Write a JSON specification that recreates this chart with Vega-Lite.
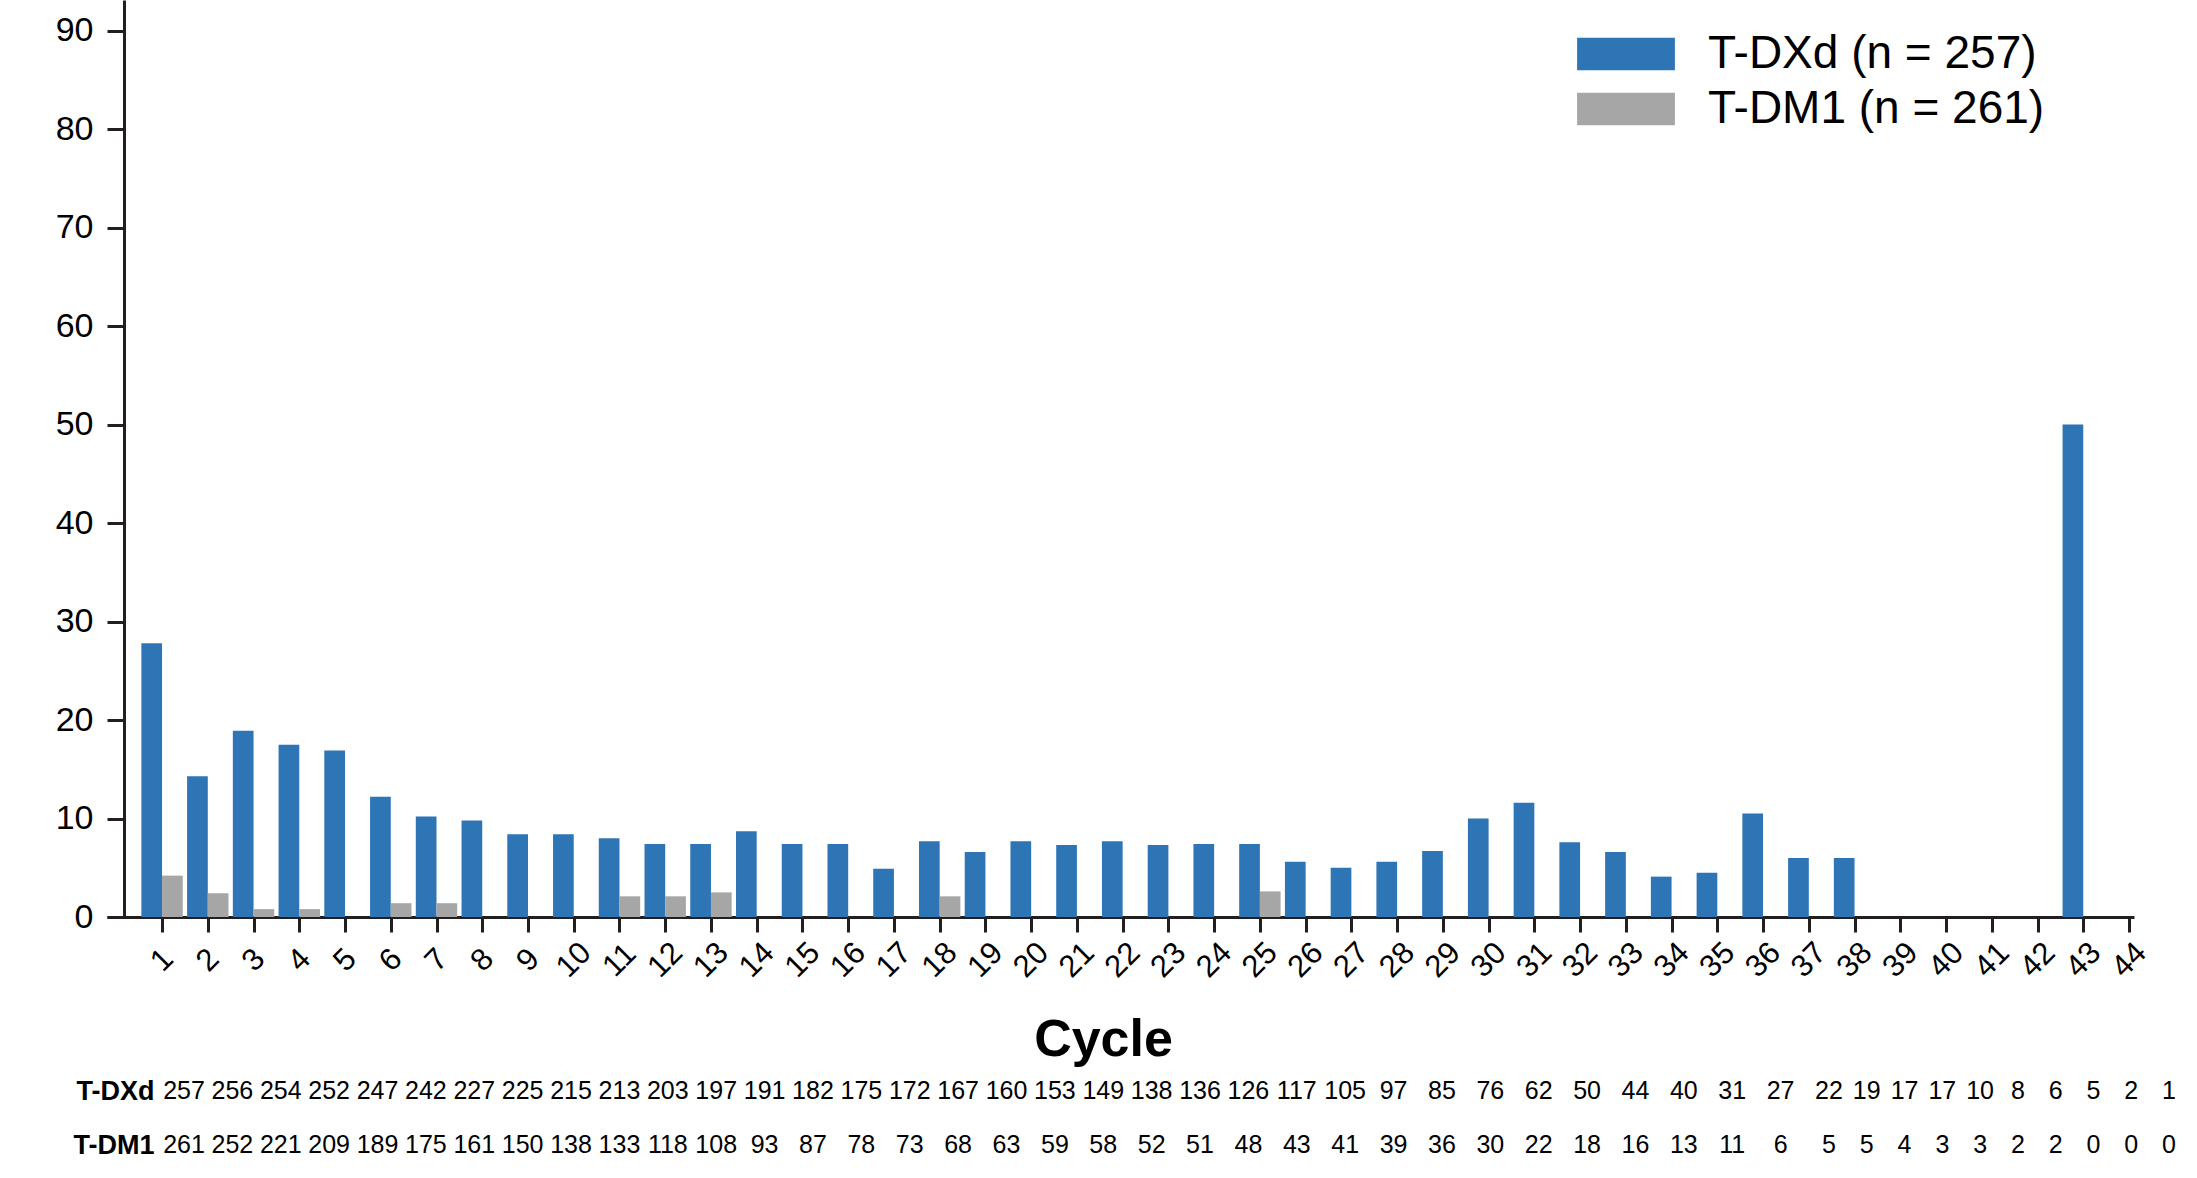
{
  "$schema": "https://vega.github.io/schema/vega-lite/v6.json",
  "padding": {"left": 55, "top": 0, "right": 5, "bottom": 5},
  "autosize": {"type": "pad"},
  "bounds": "flush",
  "spacing": 147,
  "config": {
    "font": "Liberation Sans",
    "view": {"stroke": null},
    "axis": {"domainColor": "#231f20", "tickColor": "#231f20", "domainWidth": 3, "tickWidth": 3, "labelColor": "#000000", "titleColor": "#000000", "grid": false}
  },
  "datasets": {
    "bars": [
      {"cycle": 1, "group": "T-DXd (n = 257)", "pct": 27.8},
      {"cycle": 2, "group": "T-DXd (n = 257)", "pct": 14.3},
      {"cycle": 3, "group": "T-DXd (n = 257)", "pct": 18.9},
      {"cycle": 4, "group": "T-DXd (n = 257)", "pct": 17.5},
      {"cycle": 5, "group": "T-DXd (n = 257)", "pct": 16.9},
      {"cycle": 6, "group": "T-DXd (n = 257)", "pct": 12.2},
      {"cycle": 7, "group": "T-DXd (n = 257)", "pct": 10.2},
      {"cycle": 8, "group": "T-DXd (n = 257)", "pct": 9.8},
      {"cycle": 9, "group": "T-DXd (n = 257)", "pct": 8.4},
      {"cycle": 10, "group": "T-DXd (n = 257)", "pct": 8.4},
      {"cycle": 11, "group": "T-DXd (n = 257)", "pct": 8.0},
      {"cycle": 12, "group": "T-DXd (n = 257)", "pct": 7.4},
      {"cycle": 13, "group": "T-DXd (n = 257)", "pct": 7.4},
      {"cycle": 14, "group": "T-DXd (n = 257)", "pct": 8.7},
      {"cycle": 15, "group": "T-DXd (n = 257)", "pct": 7.4},
      {"cycle": 16, "group": "T-DXd (n = 257)", "pct": 7.4},
      {"cycle": 17, "group": "T-DXd (n = 257)", "pct": 4.9},
      {"cycle": 18, "group": "T-DXd (n = 257)", "pct": 7.7},
      {"cycle": 19, "group": "T-DXd (n = 257)", "pct": 6.6},
      {"cycle": 20, "group": "T-DXd (n = 257)", "pct": 7.7},
      {"cycle": 21, "group": "T-DXd (n = 257)", "pct": 7.3},
      {"cycle": 22, "group": "T-DXd (n = 257)", "pct": 7.7},
      {"cycle": 23, "group": "T-DXd (n = 257)", "pct": 7.3},
      {"cycle": 24, "group": "T-DXd (n = 257)", "pct": 7.4},
      {"cycle": 25, "group": "T-DXd (n = 257)", "pct": 7.4},
      {"cycle": 26, "group": "T-DXd (n = 257)", "pct": 5.6},
      {"cycle": 27, "group": "T-DXd (n = 257)", "pct": 5.0},
      {"cycle": 28, "group": "T-DXd (n = 257)", "pct": 5.6},
      {"cycle": 29, "group": "T-DXd (n = 257)", "pct": 6.7},
      {"cycle": 30, "group": "T-DXd (n = 257)", "pct": 10.0},
      {"cycle": 31, "group": "T-DXd (n = 257)", "pct": 11.6},
      {"cycle": 32, "group": "T-DXd (n = 257)", "pct": 7.6},
      {"cycle": 33, "group": "T-DXd (n = 257)", "pct": 6.6},
      {"cycle": 34, "group": "T-DXd (n = 257)", "pct": 4.1},
      {"cycle": 35, "group": "T-DXd (n = 257)", "pct": 4.5},
      {"cycle": 36, "group": "T-DXd (n = 257)", "pct": 10.5},
      {"cycle": 37, "group": "T-DXd (n = 257)", "pct": 6.0},
      {"cycle": 38, "group": "T-DXd (n = 257)", "pct": 6.0},
      {"cycle": 39, "group": "T-DXd (n = 257)", "pct": 0},
      {"cycle": 40, "group": "T-DXd (n = 257)", "pct": 0},
      {"cycle": 41, "group": "T-DXd (n = 257)", "pct": 0},
      {"cycle": 42, "group": "T-DXd (n = 257)", "pct": 0},
      {"cycle": 43, "group": "T-DXd (n = 257)", "pct": 50.0},
      {"cycle": 44, "group": "T-DXd (n = 257)", "pct": 0},
      {"cycle": 1, "group": "T-DM1 (n = 261)", "pct": 4.2},
      {"cycle": 2, "group": "T-DM1 (n = 261)", "pct": 2.4},
      {"cycle": 3, "group": "T-DM1 (n = 261)", "pct": 0.8},
      {"cycle": 4, "group": "T-DM1 (n = 261)", "pct": 0.8},
      {"cycle": 6, "group": "T-DM1 (n = 261)", "pct": 1.4},
      {"cycle": 7, "group": "T-DM1 (n = 261)", "pct": 1.4},
      {"cycle": 11, "group": "T-DM1 (n = 261)", "pct": 2.1},
      {"cycle": 12, "group": "T-DM1 (n = 261)", "pct": 2.1},
      {"cycle": 13, "group": "T-DM1 (n = 261)", "pct": 2.5},
      {"cycle": 18, "group": "T-DM1 (n = 261)", "pct": 2.1},
      {"cycle": 25, "group": "T-DM1 (n = 261)", "pct": 2.6}
    ],
    "risk": [
      {"cycle": 1, "arm": "T-DXd", "n": 257}, {"cycle": 2, "arm": "T-DXd", "n": 256}, {"cycle": 3, "arm": "T-DXd", "n": 254}, {"cycle": 4, "arm": "T-DXd", "n": 252},
      {"cycle": 5, "arm": "T-DXd", "n": 247}, {"cycle": 6, "arm": "T-DXd", "n": 242}, {"cycle": 7, "arm": "T-DXd", "n": 227}, {"cycle": 8, "arm": "T-DXd", "n": 225},
      {"cycle": 9, "arm": "T-DXd", "n": 215}, {"cycle": 10, "arm": "T-DXd", "n": 213}, {"cycle": 11, "arm": "T-DXd", "n": 203}, {"cycle": 12, "arm": "T-DXd", "n": 197},
      {"cycle": 13, "arm": "T-DXd", "n": 191}, {"cycle": 14, "arm": "T-DXd", "n": 182}, {"cycle": 15, "arm": "T-DXd", "n": 175}, {"cycle": 16, "arm": "T-DXd", "n": 172},
      {"cycle": 17, "arm": "T-DXd", "n": 167}, {"cycle": 18, "arm": "T-DXd", "n": 160}, {"cycle": 19, "arm": "T-DXd", "n": 153}, {"cycle": 20, "arm": "T-DXd", "n": 149},
      {"cycle": 21, "arm": "T-DXd", "n": 138}, {"cycle": 22, "arm": "T-DXd", "n": 136}, {"cycle": 23, "arm": "T-DXd", "n": 126}, {"cycle": 24, "arm": "T-DXd", "n": 117},
      {"cycle": 25, "arm": "T-DXd", "n": 105}, {"cycle": 26, "arm": "T-DXd", "n": 97}, {"cycle": 27, "arm": "T-DXd", "n": 85}, {"cycle": 28, "arm": "T-DXd", "n": 76},
      {"cycle": 29, "arm": "T-DXd", "n": 62}, {"cycle": 30, "arm": "T-DXd", "n": 50}, {"cycle": 31, "arm": "T-DXd", "n": 44}, {"cycle": 32, "arm": "T-DXd", "n": 40},
      {"cycle": 33, "arm": "T-DXd", "n": 31}, {"cycle": 34, "arm": "T-DXd", "n": 27}, {"cycle": 35, "arm": "T-DXd", "n": 22}, {"cycle": 36, "arm": "T-DXd", "n": 19},
      {"cycle": 37, "arm": "T-DXd", "n": 17}, {"cycle": 38, "arm": "T-DXd", "n": 17}, {"cycle": 39, "arm": "T-DXd", "n": 10}, {"cycle": 40, "arm": "T-DXd", "n": 8},
      {"cycle": 41, "arm": "T-DXd", "n": 6}, {"cycle": 42, "arm": "T-DXd", "n": 5}, {"cycle": 43, "arm": "T-DXd", "n": 2}, {"cycle": 44, "arm": "T-DXd", "n": 1},
      {"cycle": 1, "arm": "T-DM1", "n": 261}, {"cycle": 2, "arm": "T-DM1", "n": 252}, {"cycle": 3, "arm": "T-DM1", "n": 221}, {"cycle": 4, "arm": "T-DM1", "n": 209},
      {"cycle": 5, "arm": "T-DM1", "n": 189}, {"cycle": 6, "arm": "T-DM1", "n": 175}, {"cycle": 7, "arm": "T-DM1", "n": 161}, {"cycle": 8, "arm": "T-DM1", "n": 150},
      {"cycle": 9, "arm": "T-DM1", "n": 138}, {"cycle": 10, "arm": "T-DM1", "n": 133}, {"cycle": 11, "arm": "T-DM1", "n": 118}, {"cycle": 12, "arm": "T-DM1", "n": 108},
      {"cycle": 13, "arm": "T-DM1", "n": 93}, {"cycle": 14, "arm": "T-DM1", "n": 87}, {"cycle": 15, "arm": "T-DM1", "n": 78}, {"cycle": 16, "arm": "T-DM1", "n": 73},
      {"cycle": 17, "arm": "T-DM1", "n": 68}, {"cycle": 18, "arm": "T-DM1", "n": 63}, {"cycle": 19, "arm": "T-DM1", "n": 59}, {"cycle": 20, "arm": "T-DM1", "n": 58},
      {"cycle": 21, "arm": "T-DM1", "n": 52}, {"cycle": 22, "arm": "T-DM1", "n": 51}, {"cycle": 23, "arm": "T-DM1", "n": 48}, {"cycle": 24, "arm": "T-DM1", "n": 43},
      {"cycle": 25, "arm": "T-DM1", "n": 41}, {"cycle": 26, "arm": "T-DM1", "n": 39}, {"cycle": 27, "arm": "T-DM1", "n": 36}, {"cycle": 28, "arm": "T-DM1", "n": 30},
      {"cycle": 29, "arm": "T-DM1", "n": 22}, {"cycle": 30, "arm": "T-DM1", "n": 18}, {"cycle": 31, "arm": "T-DM1", "n": 16}, {"cycle": 32, "arm": "T-DM1", "n": 13},
      {"cycle": 33, "arm": "T-DM1", "n": 11}, {"cycle": 34, "arm": "T-DM1", "n": 6}, {"cycle": 35, "arm": "T-DM1", "n": 5}, {"cycle": 36, "arm": "T-DM1", "n": 5},
      {"cycle": 37, "arm": "T-DM1", "n": 4}, {"cycle": 38, "arm": "T-DM1", "n": 3}, {"cycle": 39, "arm": "T-DM1", "n": 3}, {"cycle": 40, "arm": "T-DM1", "n": 2},
      {"cycle": 41, "arm": "T-DM1", "n": 2}, {"cycle": 42, "arm": "T-DM1", "n": 0}, {"cycle": 43, "arm": "T-DM1", "n": 0}, {"cycle": 44, "arm": "T-DM1", "n": 0}
    ]
  },
  "vconcat": [
    {
      "width": 2027,
      "height": 917,
      "data": {"name": "bars"},
      "encoding": {
        "x": {
          "field": "cycle", "type": "quantitative",
          "scale": {"domain": [-0.094, 44], "nice": false, "zero": false},
          "axis": {
            "values": [1,2,3,4,5,6,7,8,9,10,11,12,13,14,15,16,17,18,19,20,21,22,23,24,25,26,27,28,29,30,31,32,33,34,35,36,37,38,39,40,41,42,43,44],
            "format": "d", "tickSize": 15, "labelAngle": -45, "labelAlign": "center", "labelBaseline": "middle",
            "labelPadding": 28, "labelFontSize": 31, "labelOverlap": false, "labelFlush": false,
            "title": "Cycle", "titleFontSize": 52, "titleFontWeight": "bold",
            "titleX": 996, "titleY": 138, "titleAlign": "center", "titleBaseline": "alphabetic"
          }
        },
        "y": {
          "field": "pct", "type": "quantitative",
          "scale": {"domain": [0, 93.1], "nice": false},
          "axis": {"values": [0,10,20,30,40,50,60,70,80,90], "offset": -17, "tickSize": 17, "labelPadding": 14, "labelFontSize": 34, "title": null}
        },
        "color": {
          "field": "group", "type": "nominal",
          "scale": {"domain": ["T-DXd (n = 257)", "T-DM1 (n = 261)"], "range": ["#2e75b6", "#a6a6a6"]},
          "legend": {
            "title": null, "orient": "none", "legendX": 1496, "legendY": 31,
            "symbolType": "M-3,-1H3V1H-3Z", "symbolSize": 1063, "symbolStrokeWidth": 0, "symbolOpacity": 1,
            "labelFontSize": 46, "labelOffset": 59, "labelLimit": 0, "labelColor": "#000000", "rowPadding": 9, "padding": 0
          }
        }
      },
      "layer": [
        {
          "transform": [{"filter": "datum.group === 'T-DXd (n = 257)'"}],
          "mark": {"type": "bar", "width": 20.7, "xOffset": -10.35, "opacity": 1}
        },
        {
          "transform": [{"filter": "datum.group === 'T-DM1 (n = 261)'"}],
          "mark": {"type": "bar", "width": 20.7, "xOffset": 10.35, "opacity": 1}
        }
      ]
    },
    {
      "width": 2027,
      "height": 108,
      "data": {"name": "risk"},
      "mark": {"type": "text", "fontSize": 25, "color": "#000000"},
      "encoding": {
        "x": {
          "field": "cycle", "type": "quantitative",
          "scale": {"domain": [1, 35, 44], "range": [77, 1722, 2062], "nice": false, "zero": false},
          "axis": null
        },
        "y": {
          "field": "arm", "type": "nominal",
          "scale": {"domain": ["T-DXd", "T-DM1"]},
          "axis": {"title": null, "domain": false, "ticks": false, "tickSize": 0, "labelPadding": 0, "offset": -47, "labelFontSize": 27, "labelFontWeight": "bold"}
        },
        "text": {"field": "n", "type": "quantitative"}
      }
    }
  ]
}
